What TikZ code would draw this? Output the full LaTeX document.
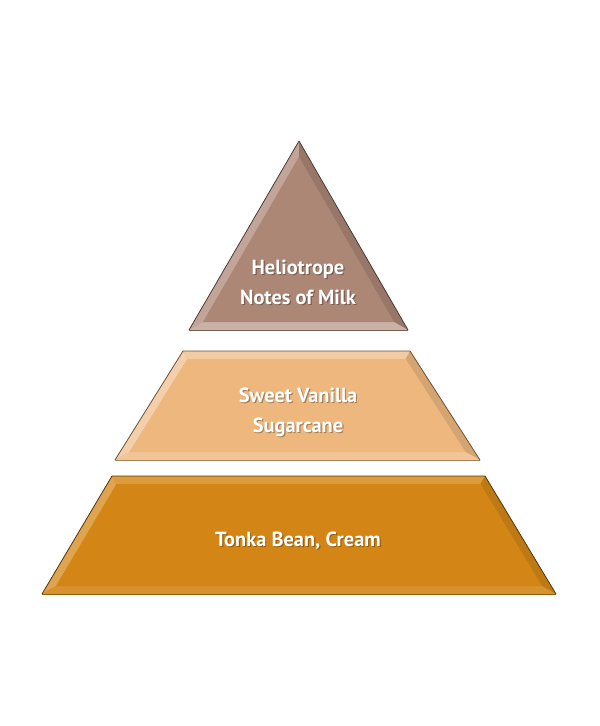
\documentclass[tikz,border=0pt]{standalone}
\usepackage{fontspec}
\setmainfont{PT Sans}
\begin{document}
\begin{tikzpicture}[x=0.75pt,y=-0.75pt,
  lbl/.style={text=white,font=\bfseries\fontsize{15.3}{22.5}\selectfont,align=center,inner sep=0pt},
  shd/.style={text=black,opacity=0.3,font=\bfseries\fontsize{15.3}{22.5}\selectfont,align=center,inner sep=0pt}]
\definecolor{topc}{HTML}{AD8776}
\definecolor{midc}{HTML}{EDB77E}
\definecolor{botc}{HTML}{D38616}
\useasboundingbox (0,0) rectangle (600,726);
\fill[white] (0,0) rectangle (600,726);

% ---------- top triangle ----------
\coordinate (t1) at (189,330); \coordinate (t2) at (408,330); \coordinate (t3) at (299,141);
\coordinate (i1) at (203,322); \coordinate (i2) at (394,322); \coordinate (i3) at (299,157);
\fill[topc] (t1)--(t2)--(t3)--cycle;
\fill[topc!75!white] (t1)--(i1)--(i3)--(t3)--cycle;
\fill[topc!88!black] (t2)--(t3)--(i3)--(i2)--cycle;
\fill[topc!65!white] (t1)--(t2)--(i2)--(i1)--cycle;
\fill[topc] (i1)--(i2)--(i3)--cycle;
\draw[topc!45!black,line width=0.6pt,line join=round] (t1)--(t3)--(t2);
\draw[topc!70!black,line width=0.4pt] (t1)--(t2);

% ---------- middle trapezoid ----------
\coordinate (m1) at (115,460); \coordinate (m2) at (480,460); \coordinate (m3) at (410,351); \coordinate (m4) at (183,351);
\coordinate (n1) at (129.4,452); \coordinate (n2) at (465.4,452); \coordinate (n3) at (405.6,359); \coordinate (n4) at (187.4,359);
\fill[midc] (m1)--(m2)--(m3)--(m4)--cycle;
\fill[midc!65!white] (m1)--(n1)--(n4)--(m4)--cycle;
\fill[midc!72!white] (m4)--(n4)--(n3)--(m3)--cycle;
\fill[midc!90!black] (m2)--(m3)--(n3)--(n2)--cycle;
\fill[midc!80!white] (m1)--(m2)--(n2)--(n1)--cycle;
\fill[midc] (n1)--(n2)--(n3)--(n4)--cycle;
\draw[midc!45!black,line width=0.6pt,line join=round] (m1)--(m4)--(m3)--(m2);
\draw[midc!70!black,line width=0.4pt] (m1)--(m2);

% ---------- bottom trapezoid ----------
\coordinate (b1) at (42,594); \coordinate (b2) at (556,594); \coordinate (b3) at (485,476); \coordinate (b4) at (112,476);
\coordinate (c1) at (56,586); \coordinate (c2) at (541.9,586); \coordinate (c3) at (480.5,484); \coordinate (c4) at (116.6,484);
\fill[botc] (b1)--(b2)--(b3)--(b4)--cycle;
\fill[botc!75!white] (b1)--(c1)--(c4)--(b4)--cycle;
\fill[botc!82!white] (b4)--(c4)--(c3)--(b3)--cycle;
\fill[botc!90!black] (b2)--(b3)--(c3)--(c2)--cycle;
\fill[botc!90!white] (b1)--(b2)--(c2)--(c1)--cycle;
\fill[botc] (c1)--(c2)--(c3)--(c4)--cycle;
\draw[botc!40!black,line width=0.6pt,line join=round] (b1)--(b4)--(b3)--(b2);
\draw[botc!70!black,line width=0.4pt] (b1)--(b2);

% ---------- labels ----------
\node[shd] at (299.2,283.2) {Heliotrope\\Notes of Milk};
\node[lbl] (ltop) at (298,282) {Heliotrope\\Notes of Milk};
\node[shd] at (299.2,413.2) {Sweet Vanilla\\Sugarcane};
\node[lbl] (lmid) at (298,412) {Sweet Vanilla\\Sugarcane};
\node[shd] at (299.2,542.2) {Tonka Bean, Cream};
\node[lbl] (lbot) at (298,541) {Tonka Bean, Cream};
\end{tikzpicture}
\end{document}
